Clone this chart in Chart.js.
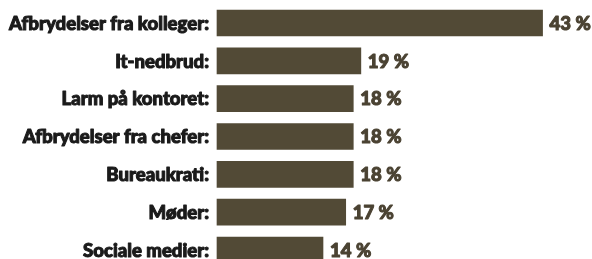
<!DOCTYPE html>
<html>
<head>
<meta charset="utf-8">
<script src="https://cdn.jsdelivr.net/npm/chart.js@4/dist/chart.umd.min.js"></script>
<style>
  html, body { margin: 0; padding: 0; background: #fff; }
  #wrap { width: 592px; height: 259px; }
</style>
</head>
<body>
<div id="wrap"><canvas id="myChart"></canvas></div>
<script>
// data
var categories = ["Afbrydelser fra kolleger:", "It-nedbrud:", "Larm på kontoret:",
  "Afbrydelser fra chefer:", "Bureaukrati:", "Møder:", "Sociale medier:"];
var values = [43, 19, 18, 18, 18, 17, 14];

var barColor = "#524a36";
var labelFont = "900 18px Lato, Roboto, sans-serif";

// squeeze text horizontally (and thicken it) to mimic the heavy condensed face
function drawSqueezed(ctx, text, x, y, sx) {
  ctx.save();
  ctx.translate(x, y);
  ctx.scale(sx, 1);
  ctx.strokeStyle = ctx.fillStyle;
  ctx.lineWidth = 1;
  ctx.lineJoin = "round";
  ctx.strokeText(text, 0, 0);
  ctx.fillText(text, 0, 0);
  ctx.restore();
}

// category names left of the axis, values after the bars
var barLabels = {
  id: 'barLabels',
  afterDatasetsDraw: function (chart) {
    var ctx = chart.ctx;
    var meta = chart.getDatasetMeta(0);
    var yScale = chart.scales.y;
    ctx.save();
    ctx.font = labelFont;
    ctx.textBaseline = "middle";
    // first label is ~201px wide in the reference
    var sx = 200 / ctx.measureText(categories[0]).width;

    ctx.fillStyle = "#1a1a1a";
    ctx.textAlign = "right";
    categories.forEach(function (name, i) {
      drawSqueezed(ctx, name, chart.chartArea.left - 8, yScale.getPixelForValue(i) + 1, sx);
    });

    ctx.fillStyle = "#4a4232";
    ctx.textAlign = "left";
    meta.data.forEach(function (bar, i) {
      drawSqueezed(ctx, values[i] + " %", bar.x + 7, bar.y + 1, sx);
    });
    ctx.restore();
  }
};

var ctx = document.getElementById("myChart").getContext('2d');

var myBarChart = new Chart(ctx, {
  type: 'bar',
  data: {
    labels: categories,
    datasets: [{
      data: values,
      backgroundColor: barColor,
      barThickness: 26,
      clip: false
    }]
  },
  plugins: [barLabels],
  options: {
    indexAxis: 'y',
    responsive: true,
    maintainAspectRatio: false,
    animation: false,
    layout: { padding: { top: 23, bottom: 9, left: 0, right: 4 } },
    plugins: {
      legend: { display: false },
      tooltip: { enabled: false }
    },
    scales: {
      x: {
        display: false,
        min: 0,
        max: 49
      },
      y: {
        offset: false,
        border: { display: false },
        grid: { display: false, drawTicks: false },
        ticks: { display: false },
        afterFit: function (scale) {
          scale.width = 217;
          scale.paddingTop = 0;
          scale.paddingBottom = 0;
        }
      }
    }
  }
});
</script>
</body>
</html>
